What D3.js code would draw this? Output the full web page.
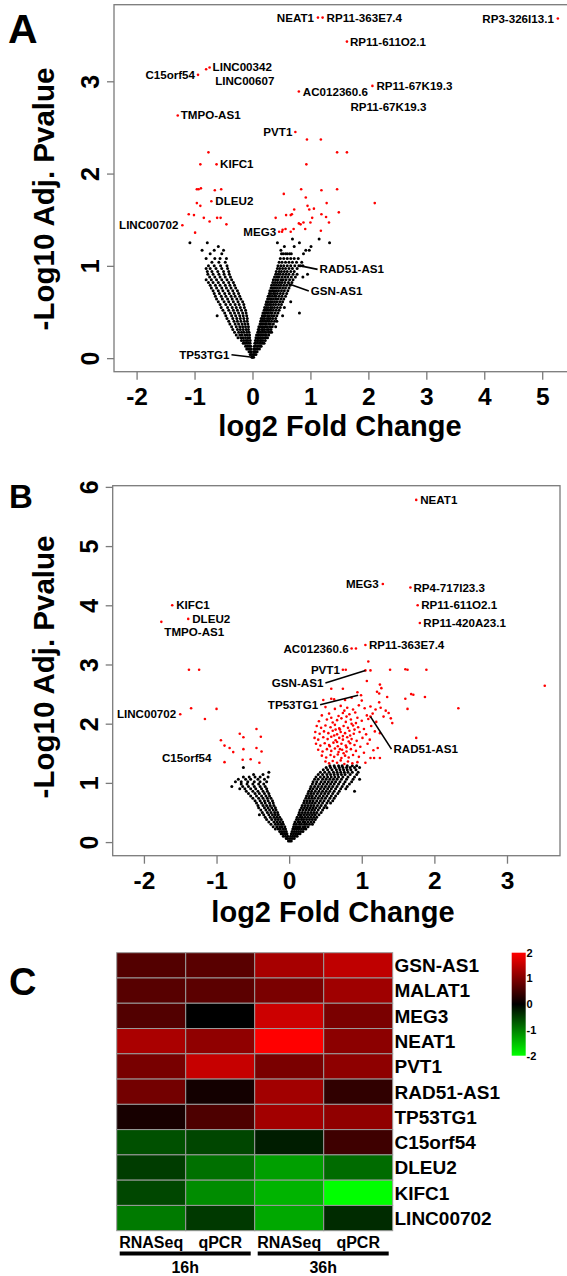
<!DOCTYPE html>
<meta charset="utf-8">
<script src="https://d3js.org/d3.v7.min.js"></script>
<style>
  body { margin: 0; background: #fff; }
  text { font-family: "Liberation Sans", Arial, sans-serif; font-weight: bold; }
</style>
<div id="fig"></div>
<script>
// ---------- panel A : volcano (16h) ----------
var aTicksX = [-2, -1, 0, 1, 2, 3, 4, 5];
var aTicksY = [0, 1, 2, 3];

// non significant genes, one row per -log10 p level: [y, [x, x, ...]]
var aBlackRows = [
  [0.01, [0.00, 0.02, -0.01]],
  [0.04, [0.01, 0.03, 0.06, -0.02, -0.04]],
  [0.07, [0.02, 0.04, 0.05, 0.08, -0.02, -0.04, -0.06]],
  [0.10, [0.02, 0.04, 0.07, 0.09, 0.12, -0.03, -0.05, -0.08, -0.10]],
  [0.13, [0.03, 0.05, 0.08, 0.10, 0.13, 0.15, -0.03, -0.06, -0.09, -0.12]],
  [0.16, [0.04, 0.06, 0.09, 0.12, 0.14, 0.17, 0.20, -0.04, -0.07, -0.10, -0.13, -0.16]],
  [0.19, [0.05, 0.08, 0.10, 0.13, 0.15, 0.18, 0.22, -0.04, -0.08, -0.11, -0.15, -0.19]],
  [0.22, [0.06, 0.09, 0.11, 0.14, 0.17, 0.20, 0.23, 0.26, -0.05, -0.08, -0.12, -0.16, -0.20, -0.25]],
  [0.25, [0.07, 0.10, 0.13, 0.15, 0.18, 0.22, 0.24, 0.28, -0.05, -0.09, -0.13, -0.18, -0.22, -0.28]],
  [0.28, [0.09, 0.11, 0.14, 0.17, 0.20, 0.23, 0.27, 0.30, 0.33, -0.06, -0.10, -0.15, -0.19, -0.24, -0.31]],
  [0.31, [0.10, 0.12, 0.16, 0.18, 0.21, 0.25, 0.28, 0.32, -0.07, -0.11, -0.16, -0.21, -0.26, -0.34]],
  [0.34, [0.11, 0.14, 0.17, 0.20, 0.23, 0.26, 0.30, 0.34, 0.40, -0.07, -0.12, -0.17, -0.22, -0.28, -0.36]],
  [0.37, [0.13, 0.15, 0.18, 0.22, 0.24, 0.28, 0.31, 0.36, -0.08, -0.13, -0.18, -0.24, -0.30, -0.39]],
  [0.40, [0.14, 0.17, 0.20, 0.23, 0.26, 0.29, 0.33, 0.38, 0.42, -0.09, -0.14, -0.20, -0.26, -0.32, -0.41]],
  [0.43, [0.15, 0.18, 0.21, 0.25, 0.28, 0.31, 0.35, 0.40, -0.09, -0.15, -0.21, -0.27, -0.34, -0.44]],
  [0.46, [0.17, 0.20, 0.22, 0.26, 0.29, 0.33, 0.37, 0.42, 0.52, -0.10, -0.16, -0.22, -0.29, -0.36, -0.46, -0.61]],
  [0.49, [0.18, 0.21, 0.24, 0.27, 0.31, 0.34, 0.39, 0.44, 0.81, -0.11, -0.17, -0.24, -0.31, -0.38, -0.48]],
  [0.52, [0.20, 0.23, 0.26, 0.29, 0.32, 0.36, 0.41, 0.46, -0.12, -0.19, -0.26, -0.33, -0.41, -0.51]],
  [0.55, [0.21, 0.24, 0.27, 0.31, 0.34, 0.38, 0.43, 0.48, 0.55, -0.14, -0.21, -0.28, -0.35, -0.43, -0.54]],
  [0.58, [0.23, 0.26, 0.29, 0.32, 0.36, 0.40, 0.45, 0.50, -0.15, -0.23, -0.30, -0.38, -0.46, -0.56]],
  [0.61, [0.24, 0.27, 0.31, 0.34, 0.38, 0.42, 0.47, 0.52, 0.66, -0.17, -0.25, -0.33, -0.41, -0.49, -0.59]],
  [0.64, [0.26, 0.29, 0.32, 0.36, 0.40, 0.44, 0.49, 0.54, -0.20, -0.27, -0.35, -0.43, -0.52, -0.62]],
  [0.67, [0.27, 0.30, 0.34, 0.38, 0.41, 0.46, 0.51, 0.57, -0.22, -0.30, -0.37, -0.46, -0.54, -0.64]],
  [0.70, [0.29, 0.32, 0.36, 0.39, 0.43, 0.48, 0.53, 0.59, -0.24, -0.32, -0.40, -0.48, -0.57, -0.66]],
  [0.73, [0.30, 0.34, 0.37, 0.41, 0.45, 0.50, 0.55, 0.61, -0.26, -0.34, -0.42, -0.51, -0.59, -0.68]],
  [0.76, [0.32, 0.35, 0.39, 0.43, 0.47, 0.52, 0.57, 0.63, -0.29, -0.37, -0.45, -0.53, -0.62, -0.71]],
  [0.79, [0.33, 0.37, 0.41, 0.45, 0.49, 0.54, 0.59, 0.65, -0.31, -0.39, -0.47, -0.56, -0.64, -0.73]],
  [0.82, [0.35, 0.39, 0.43, 0.47, 0.51, 0.56, 0.62, 0.68, -0.33, -0.41, -0.50, -0.59, -0.68, -0.76]],
  [0.85, [0.36, 0.40, 0.44, 0.49, 0.53, 0.58, 0.64, 0.70, -0.36, -0.44, -0.53, -0.62, -0.71, -0.80]],
  [0.88, [0.38, 0.42, 0.46, 0.51, 0.56, 0.61, 0.67, 0.74, 0.87, -0.38, -0.47, -0.56, -0.65, -0.74]],
  [0.91, [0.40, 0.44, 0.48, 0.53, 0.58, 0.63, 0.70, 0.77, 0.95, -0.40, -0.49, -0.58, -0.68, -0.77]],
  [0.94, [0.41, 0.46, 0.50, 0.55, 0.60, 0.66, 0.72, -0.41, -0.50, -0.60, -0.70, -0.78]],
  [0.97, [0.43, 0.47, 0.52, 0.57, 0.63, 0.69, 0.77, -0.43, -0.53, -0.63, -0.73, -0.80]],
  [1.00, [0.44, 0.49, 0.54, 0.60, 0.66, 0.73, 0.80, 0.83, 0.87, -0.44, -0.55, -0.66, -0.76]],
  [1.04, [0.46, 0.51, 0.57, 0.63, 0.69, 0.76, 0.85, -0.47, -0.58, -0.70]],
  [1.08, [0.48, 0.54, 0.60, 0.66, 0.72, 0.79, -0.45, -0.56, -0.65, -0.80]],
  [1.13, [0.50, 0.53, 0.57, 0.60, 0.64, 0.67, 0.88, -0.53, -0.73]],
  [1.17, [0.49, 0.92, 0.98, -0.50, -0.66, -0.87]],
  [1.21, [0.55, 0.72, 1.01, -0.59]],
  [1.25, [0.43, 0.81, 1.33, -0.78, -1.08]],
  [1.29, [0.69, 1.15]]
];

// significant genes
var aRed = [
  [1.13, 3.69], [1.21, 3.69], [1.63, 3.43], [5.27, 3.68], [-0.94, 3.07], [-0.74, 3.15], [-0.80, 3.13],
  [0.80, 2.89], [2.07, 2.95], [-1.29, 2.63], [0.74, 2.45], [-0.62, 2.10], [-0.71, 1.70], [-1.21, 1.44],
  [0.46, 1.37], [0.51, 1.37],
  [-0.76, 2.23], [-0.90, 2.10], [-0.96, 1.83], [-0.93, 1.83], [-0.89, 1.84], [-0.65, 1.82], [-0.54, 1.83],
  [-0.96, 1.68], [-0.90, 1.65], [-1.10, 1.56], [-1.01, 1.55], [-0.84, 1.52], [-0.61, 1.52], [-0.55, 1.52],
  [-0.74, 1.48], [-0.45, 1.45], [-0.99, 1.36],
  [0.94, 2.37], [1.18, 2.37], [1.46, 2.23], [1.63, 2.23], [0.93, 2.10], [0.54, 1.78], [0.84, 1.83],
  [1.19, 1.82], [1.46, 1.83], [0.92, 1.74], [1.28, 1.68], [2.11, 1.68], [0.95, 1.65], [0.98, 1.61],
  [1.06, 1.62], [0.72, 1.61], [1.49, 1.58], [0.58, 1.55], [0.66, 1.55], [0.68, 1.56], [0.40, 1.52],
  [1.19, 1.56], [1.27, 1.53], [1.03, 1.52], [0.80, 1.46], [0.83, 1.45], [0.88, 1.47], [1.00, 1.47],
  [1.32, 1.47], [0.57, 1.40], [0.52, 1.39], [0.91, 1.40], [0.71, 1.40], [1.18, 1.38], [0.66, 1.37]
];

var aLabelNames = ["NEAT1", "RP11-363E7.4", "RP11-611O2.1", "RP3-326I13.1", "C15orf54", "LINC00342",
  "LINC00607", "AC012360.6", "RP11-67K19.3", "RP11-67K19.3", "TMPO-AS1", "PVT1", "KIFC1", "DLEU2",
  "LINC00702", "MEG3", "RAD51-AS1", "GSN-AS1", "TP53TG1"];
var aLabelPoints = [[1.13, 3.69], [1.21, 3.69], [1.63, 3.43], [5.27, 3.68], [-0.94, 3.07], [-0.74, 3.15],
  [-0.80, 3.13], [0.80, 2.89], [2.07, 2.95], [2.07, 2.95], [-1.29, 2.63], [0.74, 2.45], [-0.62, 2.10],
  [-0.71, 1.70], [-1.21, 1.44], [0.46, 1.37], [0.83, 1.00], [0.61, 0.81], [0.00, 0.01]];

// ---------- panel B : volcano (36h) ----------
var bTicksX = [-2, -1, 0, 1, 2, 3];
var bTicksY = [0, 1, 2, 3, 4, 5, 6];

var bBlackRows = [
  [0.02, [0.01, 0.03, -0.01]],
  [0.06, [0.01, 0.04, 0.07, -0.02, -0.04]],
  [0.10, [0.02, 0.05, 0.08, 0.11, -0.02, -0.05, -0.08]],
  [0.14, [0.03, 0.06, 0.09, 0.12, 0.15, -0.03, -0.06, -0.09, -0.11]],
  [0.18, [0.04, 0.07, 0.10, 0.13, 0.16, 0.19, -0.04, -0.07, -0.10, -0.13]],
  [0.22, [0.05, 0.08, 0.11, 0.14, 0.17, 0.20, 0.23, -0.05, -0.08, -0.12, -0.15, -0.19]],
  [0.26, [0.06, 0.09, 0.12, 0.15, 0.19, 0.22, 0.26, -0.06, -0.10, -0.13, -0.17, -0.22]],
  [0.30, [0.07, 0.10, 0.14, 0.17, 0.21, 0.24, 0.28, 0.32, -0.08, -0.11, -0.15, -0.19, -0.25]],
  [0.34, [0.08, 0.12, 0.15, 0.19, 0.22, 0.26, 0.30, 0.34, -0.09, -0.13, -0.17, -0.21, -0.28]],
  [0.38, [0.10, 0.13, 0.17, 0.20, 0.24, 0.28, 0.32, 0.36, -0.11, -0.15, -0.19, -0.24, -0.31]],
  [0.42, [0.11, 0.15, 0.18, 0.22, 0.26, 0.30, 0.34, 0.38, -0.13, -0.17, -0.21, -0.26, -0.33]],
  [0.46, [0.13, 0.16, 0.20, 0.24, 0.28, 0.32, 0.36, 0.41, -0.15, -0.19, -0.23, -0.28, -0.35, -0.41]],
  [0.50, [0.14, 0.18, 0.22, 0.26, 0.30, 0.34, 0.38, 0.44, -0.16, -0.20, -0.25, -0.30, -0.37]],
  [0.54, [0.15, 0.19, 0.23, 0.27, 0.31, 0.35, 0.40, 0.46, -0.18, -0.22, -0.27, -0.32, -0.39]],
  [0.58, [0.17, 0.21, 0.25, 0.29, 0.33, 0.37, 0.42, 0.48, 0.52, -0.19, -0.24, -0.29, -0.34, -0.42]],
  [0.62, [0.18, 0.22, 0.26, 0.30, 0.34, 0.39, 0.44, 0.50, -0.21, -0.26, -0.31, -0.36, -0.43]],
  [0.66, [0.20, 0.24, 0.28, 0.32, 0.36, 0.41, 0.46, 0.52, 0.57, -0.22, -0.27, -0.33, -0.38, -0.45]],
  [0.70, [0.21, 0.25, 0.29, 0.33, 0.38, 0.43, 0.48, 0.54, 0.60, -0.23, -0.29, -0.34, -0.40, -0.47]],
  [0.74, [0.23, 0.27, 0.31, 0.35, 0.40, 0.45, 0.50, 0.56, 0.62, -0.25, -0.30, -0.36, -0.42, -0.50]],
  [0.78, [0.24, 0.28, 0.32, 0.37, 0.42, 0.47, 0.52, 0.58, 0.64, -0.27, -0.32, -0.38, -0.45, -0.53]],
  [0.82, [0.26, 0.30, 0.34, 0.39, 0.44, 0.49, 0.54, 0.60, 0.67, -0.28, -0.34, -0.41, -0.47, -0.56]],
  [0.86, [0.27, 0.31, 0.36, 0.41, 0.46, 0.51, 0.56, 0.62, 0.69, 0.90, -0.30, -0.36, -0.43, -0.50, -0.59]],
  [0.90, [0.29, 0.33, 0.38, 0.43, 0.48, 0.53, 0.58, 0.64, 0.71, 0.78, -0.31, -0.38, -0.46, -0.53, -0.61, -0.68]],
  [0.94, [0.30, 0.35, 0.40, 0.45, 0.50, 0.55, 0.60, 0.66, 0.73, 0.80, -0.33, -0.40, -0.48, -0.56, -0.64, -0.79]],
  [0.98, [0.32, 0.37, 0.42, 0.47, 0.52, 0.57, 0.62, 0.68, 0.75, 0.83, -0.35, -0.42, -0.50, -0.58, -0.66]],
  [1.02, [0.33, 0.38, 0.44, 0.49, 0.54, 0.59, 0.64, 0.70, 0.77, 0.86, -0.31, -0.40, -0.48, -0.57, -0.66, -0.74]],
  [1.06, [0.35, 0.40, 0.46, 0.51, 0.56, 0.61, 0.66, 0.72, 0.79, 0.88, 0.97, -0.34, -0.43, -0.53, -0.60, -0.70]],
  [1.10, [0.37, 0.43, 0.48, 0.53, 0.58, 0.63, 0.68, 0.74, 0.81, 0.90, -0.29, -0.40, -0.47, -0.55, -0.63]],
  [1.14, [0.40, 0.46, 0.52, 0.57, 0.62, 0.67, 0.72, 0.77, 0.84, 0.93, -0.36, -0.49]],
  [1.18, [0.43, 0.49, 0.55, 0.61, 0.66, 0.71, 0.76, 0.81, 0.87, 0.95, -0.28]],
  [1.22, [0.47, 0.53, 0.59, 0.65, 0.70, 0.75, 0.80, 0.85, 0.92]],
  [1.26, [0.51, 0.57, 0.63, 0.69, 0.74, 0.79, 0.84, 0.90, 0.97, -0.63]],
  [1.29, [0.56, 0.62, 0.68, 0.73, 0.80, 0.87, 0.93]]
];

var bRed = [
  [1.75, 5.78], [1.29, 4.36], [1.67, 4.30], [1.77, 4.00], [1.80, 3.70], [0.86, 3.27], [0.92, 3.27],
  [1.05, 3.33], [1.09, 3.05], [0.74, 2.91], [0.78, 2.91], [1.05, 2.90], [1.12, 2.90], [1.39, 2.91],
  [1.60, 2.92], [1.63, 2.91], [1.89, 2.91], [3.52, 2.64], [1.07, 2.72], [0.58, 2.59], [0.74, 2.59],
  [0.94, 2.53], [0.99, 2.48], [1.25, 2.66], [1.27, 2.60], [1.21, 2.54], [1.24, 2.51], [1.35, 2.45],
  [1.68, 2.50], [1.60, 2.42], [1.87, 2.45], [2.33, 2.26], [1.24, 2.36], [1.63, 2.25], [1.71, 2.49],
  [1.75, 1.76], [1.37, 2.18], [1.40, 2.09], [1.42, 2.01], [1.25, 1.84], [1.22, 1.59], [1.25, 1.42],
  [1.17, 1.42], [1.12, 2.12],
  [0.47, 2.40], [0.58, 2.42], [0.62, 2.41], [0.77, 2.40], [0.86, 2.44], [1.00, 2.39],
  [0.50, 2.28], [0.63, 2.25], [0.71, 2.30], [0.80, 2.27], [0.88, 2.24], [0.96, 2.31], [1.04, 2.26],
  [1.12, 2.29], [1.19, 2.24], [1.26, 2.27], [1.33, 2.22],
  [0.45, 2.14], [0.55, 2.17], [0.68, 2.13], [0.74, 2.18], [0.79, 2.12], [0.83, 2.16], [0.91, 2.19],
  [1.07, 2.14], [1.15, 2.17], [1.30, 2.12],
  [0.41, 2.04], [0.52, 2.07], [0.60, 2.02], [0.66, 2.06], [0.72, 2.09], [0.78, 2.03], [0.85, 2.07],
  [0.92, 2.01], [1.00, 2.05], [1.09, 2.08], [1.20, 2.03],
  [0.38, 1.96], [0.44, 1.93], [0.50, 1.97], [0.57, 1.94], [0.63, 1.98], [0.69, 1.92], [0.75, 1.96],
  [0.81, 1.93], [0.88, 1.97], [0.95, 1.94], [1.03, 1.91], [1.13, 1.96],
  [0.36, 1.86], [0.42, 1.83], [0.48, 1.87], [0.54, 1.84], [0.60, 1.88], [0.66, 1.82], [0.71, 1.86],
  [0.77, 1.84], [0.83, 1.88], [0.89, 1.83], [0.97, 1.86], [1.06, 1.82], [1.18, 1.87],
  [0.35, 1.76], [0.40, 1.73], [0.47, 1.77], [0.53, 1.74], [0.58, 1.78], [0.64, 1.72], [0.69, 1.76],
  [0.74, 1.73], [0.80, 1.77], [0.86, 1.74], [0.93, 1.71], [1.01, 1.76], [1.11, 1.73],
  [0.37, 1.66], [0.43, 1.63], [0.49, 1.67], [0.55, 1.64], [0.61, 1.68], [0.67, 1.62], [0.72, 1.66],
  [0.78, 1.63], [0.84, 1.67], [0.90, 1.64], [0.98, 1.61], [1.08, 1.66],
  [0.40, 1.56], [0.46, 1.53], [0.52, 1.57], [0.58, 1.54], [0.63, 1.58], [0.68, 1.52], [0.73, 1.56],
  [0.79, 1.53], [0.85, 1.57], [0.92, 1.54], [1.03, 1.51], [1.16, 1.55],
  [0.45, 1.46], [0.51, 1.43], [0.57, 1.47], [0.62, 1.44], [0.67, 1.48], [0.72, 1.42], [0.77, 1.46],
  [0.82, 1.43], [0.88, 1.47], [0.96, 1.44], [1.12, 1.42],
  [0.50, 1.36], [0.55, 1.33], [0.60, 1.37], [0.66, 1.34], [0.71, 1.38], [0.76, 1.32], [0.81, 1.36],
  [0.87, 1.33], [0.94, 1.35], [1.05, 1.34],
  [0.70, 1.90], [0.74, 1.79], [0.66, 1.69], [0.79, 1.60], [0.75, 1.50], [0.84, 1.80], [0.62, 1.80],
  [0.56, 1.62], [0.70, 1.57], [0.82, 1.70], [0.64, 1.90], [0.90, 1.90], [0.86, 2.00], [0.58, 2.10],
  [0.76, 2.22], [0.94, 2.10],
  [-1.61, 4.00], [-1.39, 3.77], [-1.76, 3.72], [-1.38, 2.91], [-1.24, 2.91], [-1.50, 2.16], [-1.35, 2.26],
  [-1.16, 2.08], [-1.00, 2.25], [-0.94, 1.72], [-0.89, 1.63], [-0.82, 1.59], [-0.77, 1.52], [-0.89, 1.35],
  [-0.68, 1.83], [-0.63, 1.77], [-0.63, 1.57], [-0.64, 1.39], [-0.53, 1.40], [-0.45, 1.91], [-0.39, 1.78],
  [-0.45, 1.59], [-0.38, 1.53], [-0.41, 1.34]
];

var bLabelNames = ["NEAT1", "MEG3", "RP4-717I23.3", "RP11-611O2.1", "RP11-420A23.1", "AC012360.6",
  "RP11-363E7.4", "PVT1", "GSN-AS1", "TP53TG1", "RAD51-AS1", "KIFC1", "DLEU2", "TMPO-AS1",
  "LINC00702", "C15orf54"];
var bLabelPoints = [[1.75, 5.78], [1.29, 4.36], [1.67, 4.30], [1.77, 4.00], [1.80, 3.70], [0.86, 3.27],
  [1.05, 3.33], [0.74, 2.91], [1.05, 2.90], [0.95, 2.48], [1.12, 2.12], [-1.61, 4.00], [-1.39, 3.77],
  [-1.76, 3.72], [-1.50, 2.16], [-0.89, 1.35]];

// ---------- panel C : heatmap ----------
var genes = ["GSN-AS1", "MALAT1", "MEG3", "NEAT1", "PVT1", "RAD51-AS1", "TP53TG1",
  "C15orf54", "DLEU2", "KIFC1", "LINC00702"];
var methods = ["RNASeq", "qPCR", "RNASeq", "qPCR"];
var timepoints = ["16h", "36h"];
var rnaseq16h = [0.65, 0.68, 0.64, 1.33, 0.94, 0.90, 0.18, -0.63, -0.47, -0.56, -0.96];
var qpcr16h = [0.70, 0.71, 0.00, 1.13, 1.55, 0.15, 0.60, -0.55, -0.88, -1.10, -0.45];
var rnaseq36h = [1.31, 0.96, 1.60, 2.00, 0.96, 1.27, 1.27, -0.23, -1.25, -1.41, -1.32];
var qpcr36h = [1.50, 1.25, 0.96, 1.10, 1.11, 0.38, 1.13, 0.49, -0.84, -2.00, -0.34];
var legendTicks = [2, 1, 0, -1, -2];

// ====================================================================
var svg = d3.select("#fig").append("svg")
  .attr("width", 567).attr("height", 1276);

function flatten(rows) {
  return rows.flatMap(function (r) { return r[1].map(function (x) { return [x, r[0]]; }); });
}

var axisGrey = "#7a7a7a";

function volcano(p) {
  var x = d3.scaleLinear().domain(p.xDomain).range([p.left, p.right]);
  var y = d3.scaleLinear().domain(p.yDomain).range([p.bottom, p.top]);
  var g = svg.append("g");

  g.append("g").selectAll("circle").data(p.black).enter().append("circle")
    .attr("cx", function (d) { return x(d[0]); })
    .attr("cy", function (d) { return y(d[1]); })
    .attr("r", 1.5).attr("fill", "#000");
  g.append("g").selectAll("circle").data(p.red).enter().append("circle")
    .attr("cx", function (d) { return x(d[0]); })
    .attr("cy", function (d) { return y(d[1]); })
    .attr("r", 1.3).attr("fill", "#ff0000");

  // box
  g.append("rect")
    .attr("x", p.left).attr("y", p.top)
    .attr("width", p.right - p.left).attr("height", p.bottom - p.top)
    .attr("fill", "none").attr("stroke", axisGrey).attr("stroke-width", 1.3);

  // x axis
  var xa = g.append("g").attr("transform", "translate(0," + p.bottom + ")")
    .call(d3.axisBottom(x).tickValues(p.ticksX).tickFormat(function (d) { return String(d); })
      .tickSize(8).tickSizeOuter(0));
  xa.select(".domain").remove();
  xa.selectAll("line").attr("stroke", axisGrey).attr("stroke-width", 1.3);
  xa.selectAll("text").attr("y", 33.5).attr("dy", 0)
    .attr("font-size", 24.5).attr("fill", "#000");

  // y axis, labels parallel to the axis
  var ya = g.append("g").attr("transform", "translate(" + p.left + ",0)")
    .call(d3.axisLeft(y).tickValues(p.ticksY).tickFormat(function (d) { return String(d); })
      .tickSize(7).tickSizeOuter(0));
  ya.select(".domain").remove();
  ya.selectAll("line").attr("stroke", axisGrey).attr("stroke-width", 1.3);
  ya.selectAll("text").attr("x", 0).attr("dy", 0)
    .attr("transform", "translate(-15,0) rotate(-90)")
    .attr("text-anchor", "middle")
    .attr("font-size", 25).attr("fill", "#000");

  // titles
  g.append("text").attr("x", p.xTitle[0]).attr("y", p.xTitle[1])
    .attr("text-anchor", "middle").attr("font-size", 29).text("log2 Fold Change");
  g.append("text")
    .attr("transform", "translate(" + p.yTitle[0] + "," + p.yTitle[1] + ") rotate(-90)")
    .attr("text-anchor", "middle").attr("font-size", 29.5).text("-Log10 Adj. Pvalue");
  g.append("text").attr("x", p.letter[0]).attr("y", p.letter[1])
    .attr("font-size", p.letter[2]).text(p.letter[3]);

  // gene labels
  p.names.forEach(function (name, i) {
    var pt = p.points[i], pos = p.place[i];
    var px = x(pt[0]), py = y(pt[1]);
    var tx = px + pos[0], ty = py + pos[1];
    if (pos[3]) {
      g.append("line")
        .attr("x1", px).attr("y1", py)
        .attr("x2", tx + (pos[2] === "start" ? -2 : 2)).attr("y2", ty)
        .attr("stroke", "#000").attr("stroke-width", 1.6);
    }
    g.append("text").attr("x", tx).attr("y", ty).attr("dy", "0.35em")
      .attr("text-anchor", pos[2]).attr("font-size", 11.6).text(name);
  });
}

// label placement: [dx, dy, anchor, leader line]
volcano({
  left: 114, right: 570.6, top: 4.7, bottom: 371.7,
  xDomain: [-2.39, 5.49], yDomain: [-0.147, 3.83],
  ticksX: aTicksX, ticksY: aTicksY,
  black: flatten(aBlackRows), red: aRed,
  names: aLabelNames, points: aLabelPoints,
  place: [
    [-4, 0, "end"], [4, 0, "start"], [3, 0, "start"], [-4, 0, "end"], [-3, 0, "end"],
    [3, -1, "start"], [9, 12, "start"], [4, 0, "start"], [4, 0, "start"], [-22, 21, "start"],
    [3, 0, "start"], [-3, 0, "end"], [3.5, 0, "start"], [4, 0, "start"], [-4, 0, "end"],
    [-3, 0, "end"], [19, 3.5, "start", true], [23, 7.5, "start", true], [-23, -2.5, "end", true]
  ],
  xTitle: [340, 435.5], yTitle: [54, 199], letter: [8, 43, 41, "A"]
});

volcano({
  left: 112.7, right: 560, top: 485.7, bottom: 855.7,
  xDomain: [-2.43, 3.73], yDomain: [-0.23, 6.02],
  ticksX: bTicksX, ticksY: bTicksY,
  black: flatten(bBlackRows), red: bRed,
  names: bLabelNames, points: bLabelPoints,
  place: [
    [4, 0, "start"], [-4, 0, "end"], [3, 0, "start"], [3.5, 0, "start"], [3.5, 0, "start"],
    [-3, 0, "end"], [3.5, 0, "start"], [-3, 0, "end"], [-42, 12.5, "end", true],
    [-40, 9.5, "end", true], [23, 32.5, "start", true], [4, 0, "start"], [4, 0, "start"],
    [3, 10.5, "start"], [-4, 0, "end"], [-13, -4, "end"]
  ],
  xTitle: [333, 922], yTitle: [54, 667], letter: [9, 508, 33, "B"]
});

// ---------- heatmap ----------
var columns = [rnaseq16h, qpcr16h, rnaseq36h, qpcr36h];
var hx = d3.scaleBand().domain(d3.range(columns.length)).range([116.7, 392.7]);
var hy = d3.scaleBand().domain(genes).range([952.7, 1230.7]);
var heat = d3.scaleLinear().domain([-2, 0, 2]).range(["#00ff00", "#000000", "#ff0000"]);

var hg = svg.append("g");
columns.forEach(function (vals, j) {
  hg.selectAll(null).data(vals).enter().append("rect")
    .attr("x", hx(j)).attr("y", function (d, i) { return hy(genes[i]); })
    .attr("width", hx.bandwidth()).attr("height", hy.bandwidth())
    .attr("fill", function (d) { return heat(d); })
    .attr("stroke", "#9a9a9a").attr("stroke-width", 1);
});

hg.selectAll(".gene").data(genes).enter().append("text")
  .attr("x", 394.5).attr("y", function (d) { return hy(d) + hy.bandwidth() / 2; })
  .attr("dy", "0.36em").attr("font-size", 19).text(function (d) { return d; });

hg.selectAll(".method").data(methods).enter().append("text")
  .attr("x", function (d, j) { return hx(j) + hx.bandwidth() / 2; })
  .attr("y", 1248).attr("text-anchor", "middle").attr("font-size", 16)
  .text(function (d) { return d; });

timepoints.forEach(function (t, k) {
  var x0 = hx(2 * k) + 3, x1 = hx(2 * k + 1) + hx.bandwidth() - 4;
  hg.append("rect").attr("x", x0).attr("y", 1251.5).attr("width", x1 - x0).attr("height", 4)
    .attr("fill", "#000");
  hg.append("text").attr("x", (x0 + x1) / 2).attr("y", 1273)
    .attr("text-anchor", "middle").attr("font-size", 16).text(t);
});

// colour key
var ly = d3.scaleLinear().domain([2, -2]).range([952.7, 1055.7]);
var grad = svg.append("defs").append("linearGradient").attr("id", "key")
  .attr("x1", 0).attr("y1", 0).attr("x2", 0).attr("y2", 1);
legendTicks.forEach(function (v) {
  grad.append("stop").attr("offset", (ly(v) - ly(2)) / (ly(-2) - ly(2)))
    .attr("stop-color", heat(v));
});
hg.append("rect").attr("x", 511.7).attr("y", ly(2)).attr("width", 14)
  .attr("height", ly(-2) - ly(2)).attr("fill", "url(#key)");
hg.selectAll(".key").data(legendTicks).enter().append("text")
  .attr("x", 526.5).attr("y", function (d) { return ly(d); })
  .attr("dy", "0.35em").attr("font-size", 11)
  .text(function (d) { return String(d); });

svg.append("text").attr("x", 9).attr("y", 995).attr("font-size", 38).text("C");
</script>
